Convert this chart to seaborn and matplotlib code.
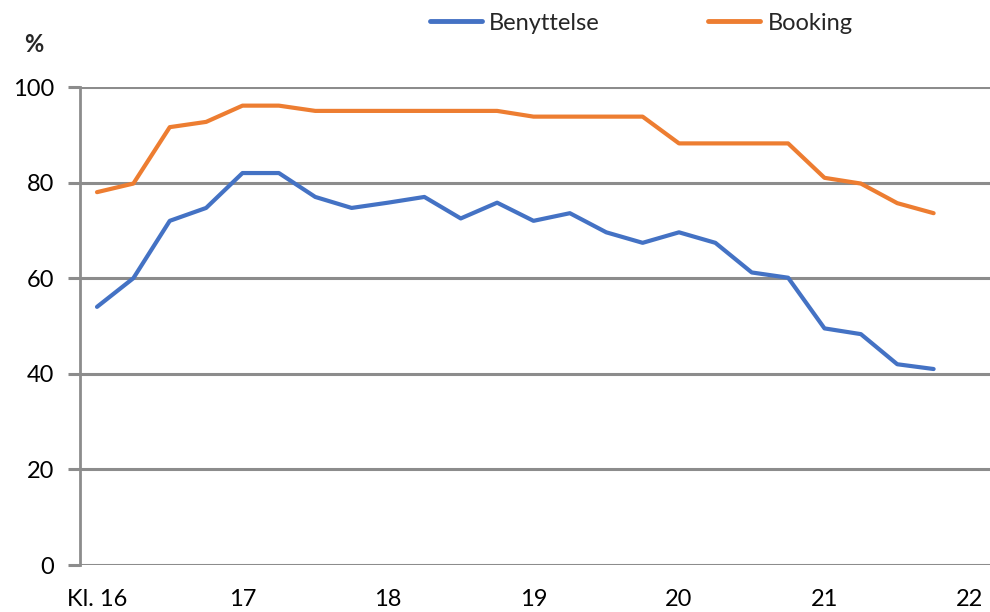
import matplotlib
matplotlib.use("Agg")

import matplotlib.pyplot as plt
import pandas as pd
import seaborn as sns

# time of day (hours, quarter steps)
hours = [16.0, 16.25, 16.5, 16.75, 17.0, 17.25, 17.5, 17.75,
         18.0, 18.25, 18.5, 18.75, 19.0, 19.25, 19.5, 19.75,
         20.0, 20.25, 20.5, 20.75, 21.0, 21.25, 21.5, 21.75]

benyttelse = [54.0, 60.0, 72.0, 74.7, 82.0, 82.0, 77.0, 74.7,
              75.8, 77.0, 72.5, 75.8, 72.0, 73.6, 69.6, 67.4,
              69.6, 67.4, 61.2, 60.1, 49.5, 48.3, 42.0, 41.0]

booking = [78.0, 79.8, 91.6, 92.7, 96.1, 96.1, 95.0, 95.0,
           95.0, 95.0, 95.0, 95.0, 93.8, 93.8, 93.8, 93.8,
           88.2, 88.2, 88.2, 88.2, 81.0, 79.8, 75.7, 73.6]

series_names = ["Benyttelse", "Booking"]
xtick_values = [16, 17, 18, 19, 20, 21, 22]
xtick_labels = ["Kl. 16", "17", "18", "19", "20", "21", "22"]
ytick_values = [0, 20, 40, 60, 80, 100]

BLUE = "#4472C4"
ORANGE = "#ED7D31"
GRID = "#8c8c8c"

df = pd.DataFrame({
    "hour": hours * 2,
    "pct": benyttelse + booking,
    "serie": [series_names[0]] * len(hours) + [series_names[1]] * len(hours),
})

sns.set_theme(style="white")
plt.rcParams["font.family"] = ["Lato", "DejaVu Sans"]

fig = plt.figure(figsize=(9.9, 6.12), dpi=100)
ax = fig.add_axes([80 / 990, 1 - 565 / 612, 1 - 80 / 990, (565 - 87) / 612])

sns.lineplot(data=df, x="hour", y="pct", hue="serie", palette=[BLUE, ORANGE],
             linewidth=3.0, ax=ax, legend=False)

ax.set_xlim(16 - 17 / 145.5, 22 + 20 / 145.5)
ax.set_ylim(0, 100)
ax.set_yticks(ytick_values)
ax.set_xticks(xtick_values)
ax.set_xticklabels(xtick_labels)
ax.set_xlabel("")
ax.set_ylabel("")

ax.grid(axis="y", color=GRID, linewidth=2.2)
ax.grid(axis="x", visible=False)
ax.set_axisbelow(True)
for s in ["top", "right", "bottom"]:
    ax.spines[s].set_visible(False)
ax.spines["left"].set_color(GRID)
ax.spines["left"].set_linewidth(2.0)

ax.tick_params(axis="y", length=8.6, width=2.2, color=GRID, pad=10,
               labelsize=17, labelcolor="black", left=True)
ax.tick_params(axis="x", length=0, pad=17, labelsize=17, labelcolor="black")

fig.text(34 / 990, 1 - 45 / 612, "%", ha="center", va="center",
         fontsize=17, fontweight="bold")

handles = [plt.Line2D([], [], color=BLUE, linewidth=3.5),
           plt.Line2D([], [], color=ORANGE, linewidth=3.5)]
fig.legend(handles, series_names, loc="center left",
           bbox_to_anchor=(430 / 990, 1 - 23 / 612), ncol=2, frameon=False,
           fontsize=17, handlelength=2.2, handletextpad=0.3,
           columnspacing=4.6, borderpad=0, borderaxespad=0)

fig.savefig("out.png", dpi=100)
